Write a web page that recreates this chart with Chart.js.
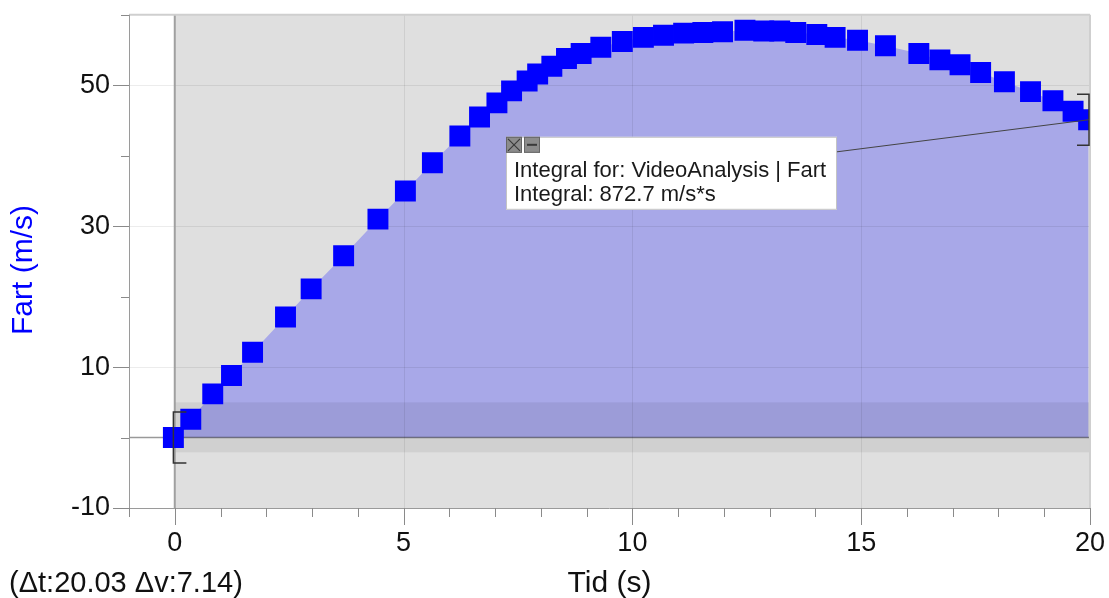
<!DOCTYPE html>
<html><head><meta charset="utf-8">
<script src="https://cdn.jsdelivr.net/npm/chart.js@4.4.1/dist/chart.umd.min.js"></script>
<style>html,body{margin:0;padding:0;background:#fff;}canvas{display:block;}</style>
</head><body>
<canvas id="c" width="1109" height="598"></canvas>
<script>
// ---- data ----
const timeValues = [-0.03,0.35,0.83,1.24,1.70,2.42,2.98,3.69,4.44,5.04,5.63,6.23,6.66,7.04,7.36,7.70,7.93,8.24,8.56,8.88,9.31,9.78,10.24,10.68,11.12,11.54,11.97,12.46,12.87,13.22,13.57,14.03,14.43,14.92,15.53,16.26,16.72,17.16,17.61,18.13,18.70,19.19,19.63,19.97];
const speedValues = [0,2.6,6.2,8.8,12.1,17.1,21.1,25.8,31.0,35.0,39.0,42.8,45.5,47.5,49.2,50.6,51.6,52.7,53.8,54.5,55.4,56.2,56.8,57.1,57.4,57.5,57.6,57.8,57.7,57.7,57.5,57.2,56.8,56.4,55.6,54.5,53.6,52.9,51.8,50.5,49.1,47.8,46.3,45.1];
const xLabeledTicks = [0, 5, 10, 15, 20];
const yLabeledTicks = [-10, 10, 30, 50];
const xRange = [-1, 20];
const yRange = [-10, 60];
const integralRange = [0, 20];
const selectionBand = [-2.1, 5];
const xTitle = "Tid (s)";
const yTitle = "Fart (m/s)";
const deltaText = "(Δt:20.03 Δv:7.14)";
const integralLines = ["Integral for: VideoAnalysis | Fart", "Integral: 872.7 m/s*s"];

const points = timeValues.map((t, i) => ({x: t, y: speedValues[i]}));
const FONT = "'Liberation Sans', Arial, sans-serif";
Chart.defaults.font.family = FONT;

function crisp(p){ return Math.round(p) + 0.5; }

const decor = {
  id: 'decor',
  beforeDraw(chart){
    const {ctx, chartArea: a, scales: {x}} = chart;
    ctx.save();
    ctx.fillStyle = '#fff';
    ctx.fillRect(0, 0, chart.width, chart.height);
    const x0 = x.getPixelForValue(integralRange[0]);
    ctx.fillStyle = '#dfdfdf';
    ctx.fillRect(x0, a.top, a.right - x0, a.bottom - a.top);
    ctx.restore();
  },
  afterDatasetDraw(chart, args){
    if (args.index !== 0) return;
    const {ctx, chartArea: a, scales: {x, y}} = chart;
    ctx.save();
    const x0 = x.getPixelForValue(integralRange[0]);
    const x1 = x.getPixelForValue(integralRange[1]);
    const yb1 = y.getPixelForValue(selectionBand[1]);
    const yb0 = y.getPixelForValue(selectionBand[0]);
    ctx.fillStyle = 'rgba(0,0,0,0.065)';
    ctx.fillRect(x0, yb1, x1 - x0, yb0 - yb1);
    ctx.strokeStyle = 'rgba(0,0,0,0.075)';
    ctx.lineWidth = 1;
    ctx.beginPath();
    [10, 30, 50].forEach(v => { const p = crisp(y.getPixelForValue(v)); ctx.moveTo(a.left, p); ctx.lineTo(a.right, p); });
    [5, 10, 15].forEach(v => { const p = crisp(x.getPixelForValue(v)); ctx.moveTo(p, a.top); ctx.lineTo(p, a.bottom); });
    ctx.stroke();
    ctx.strokeStyle = 'rgba(0,0,0,0.4)';
    ctx.lineWidth = 1.5;
    const yz = y.getPixelForValue(0);
    ctx.beginPath(); ctx.moveTo(a.left, yz); ctx.lineTo(a.right, yz); ctx.stroke();
    ctx.strokeStyle = '#a0a0a0';
    ctx.lineWidth = 2;
    ctx.beginPath(); ctx.moveTo(x0, a.top); ctx.lineTo(x0, a.bottom); ctx.stroke();
    ctx.restore();
  },
  afterDatasetsDraw(chart){
    const {ctx, chartArea: a, scales: {x, y}} = chart;
    ctx.save();
    ctx.lineWidth = 2; ctx.strokeStyle = '#cfcfcf';
    ctx.beginPath(); ctx.moveTo(a.left, a.top); ctx.lineTo(a.right, a.top); ctx.stroke();
    ctx.beginPath(); ctx.moveTo(a.right, a.top); ctx.lineTo(a.right, a.bottom); ctx.stroke();
    ctx.lineWidth = 1; ctx.strokeStyle = '#9a9a9a';
    ctx.beginPath();
    ctx.moveTo(crisp(a.left), a.top); ctx.lineTo(crisp(a.left), a.bottom);
    ctx.moveTo(a.left, crisp(a.bottom)); ctx.lineTo(a.right, crisp(a.bottom));
    ctx.stroke();
    ctx.strokeStyle = '#8a8a8a'; ctx.lineWidth = 1;
    ctx.beginPath();
    for (let v = xRange[0]; v <= xRange[1]; v++) {
      const p = crisp(x.getPixelForValue(v));
      const len = (v % 5 === 0) ? 17 : 9;
      ctx.moveTo(p, a.bottom); ctx.lineTo(p, a.bottom + len);
    }
    for (let v = yRange[0]; v <= yRange[1]; v += 10) {
      const p = crisp(y.getPixelForValue(v));
      const len = yLabeledTicks.includes(v) ? 16 : 8;
      ctx.moveTo(a.left, p); ctx.lineTo(a.left - len, p);
    }
    ctx.stroke();
    ctx.strokeStyle = '#333'; ctx.lineWidth = 1.5;
    const bx0 = x.getPixelForValue(timeValues[0]);
    const by0 = y.getPixelForValue(speedValues[0]);
    ctx.beginPath();
    ctx.moveTo(bx0 + 13, by0 - 25.5); ctx.lineTo(bx0, by0 - 25.5); ctx.lineTo(bx0, by0 + 25.5); ctx.lineTo(bx0 + 13, by0 + 25.5);
    ctx.stroke();
    const last = timeValues.length - 1;
    const bx1 = x.getPixelForValue(integralRange[1]) - 1;
    const by1 = y.getPixelForValue(speedValues[last]);
    ctx.beginPath();
    ctx.moveTo(bx1 - 12, by1 - 25.5); ctx.lineTo(bx1, by1 - 25.5); ctx.lineTo(bx1, by1 + 25.5); ctx.lineTo(bx1 - 12, by1 + 25.5);
    ctx.stroke();
    const bl = a.left + 377, bt = a.top + 122, bw = 331, bh = 73;
    const px = x.getPixelForValue(timeValues[last]);
    const py = y.getPixelForValue(speedValues[last]);
    ctx.strokeStyle = '#444'; ctx.lineWidth = 1;
    ctx.beginPath(); ctx.moveTo(bl + bw, bt + 15); ctx.lineTo(px, py); ctx.stroke();
    ctx.fillStyle = '#fff';
    ctx.fillRect(bl, bt, bw, bh);
    ctx.strokeStyle = '#c4c4c4';
    ctx.strokeRect(bl + 0.5, bt + 0.5, bw - 1, bh - 1);
    ctx.fillStyle = '#8c8c8c'; ctx.strokeStyle = '#666';
    ctx.fillRect(bl, bt, 16, 16); ctx.strokeRect(bl + 0.5, bt + 0.5, 15, 15);
    ctx.fillRect(bl + 18, bt, 16, 16); ctx.strokeRect(bl + 18.5, bt + 0.5, 15, 15);
    ctx.strokeStyle = '#3a3a3a'; ctx.lineWidth = 1.2;
    ctx.beginPath();
    ctx.moveTo(bl + 2, bt + 2); ctx.lineTo(bl + 14, bt + 14);
    ctx.moveTo(bl + 14, bt + 2); ctx.lineTo(bl + 2, bt + 14);
    ctx.stroke();
    ctx.fillStyle = '#3a3a3a';
    ctx.fillRect(bl + 21, bt + 7, 10, 2);
    ctx.fillStyle = '#1a1a1a';
    ctx.font = '22px ' + FONT;
    ctx.textAlign = 'left'; ctx.textBaseline = 'alphabetic';
    ctx.fillText(integralLines[0], bl + 8, bt + 40);
    ctx.fillText(integralLines[1], bl + 8, bt + 64);
    ctx.restore();
  },
  afterDraw(chart){
    const {ctx, chartArea: a} = chart;
    ctx.save();
    ctx.textBaseline = 'alphabetic';
    ctx.fillStyle = '#111';
    ctx.font = '30px ' + FONT;
    ctx.textAlign = 'center';
    ctx.fillText(xTitle, (a.left + a.right) / 2, 591.5);
    ctx.font = '29px ' + FONT;
    ctx.textAlign = 'left';
    ctx.fillText(deltaText, 9, 591.5);
    ctx.fillStyle = '#0000ff';
    ctx.font = '30px ' + FONT;
    ctx.translate(32, 270);
    ctx.rotate(-Math.PI / 2);
    ctx.textAlign = 'center';
    ctx.fillText(yTitle, 0, 0);
    ctx.restore();
  }
};

new Chart(document.getElementById('c'), {
  type: 'line',
  data: {
    datasets: [
      { label: 'Integral', data: points, fill: 'origin', backgroundColor: '#a8a8e8',
        borderWidth: 0, borderColor: 'rgba(0,0,0,0)', pointRadius: 0, tension: 0, order: 2 },
      { label: 'Fart', data: points, showLine: false, borderWidth: 0, pointStyle: 'rect',
        pointRadius: 14.8, pointHoverRadius: 14.8, pointBackgroundColor: '#0000ff', pointBorderWidth: 0, order: 1 }
    ]
  },
  options: {
    responsive: false,
    animation: false,
    events: [],
    layout: { padding: { left: 0, right: 19, top: 11, bottom: 0 } },
    plugins: { legend: { display: false }, tooltip: { enabled: false } },
    scales: {
      x: {
        type: 'linear', min: xRange[0], max: xRange[1],
        grid: { display: false, drawTicks: false }, border: { display: false },
        ticks: { stepSize: 1, autoSkip: false, maxRotation: 0, padding: 19, color: '#111',
          font: { size: 27 }, callback: v => xLabeledTicks.includes(v) ? String(v) : '' },
        afterFit(s){ s.height = 90; s.paddingLeft = 0; s.paddingRight = 0; }
      },
      y: {
        type: 'linear', min: yRange[0], max: yRange[1],
        grid: { display: false, drawTicks: false }, border: { display: false },
        ticks: { stepSize: 10, autoSkip: false, padding: 19, color: '#111',
          font: { size: 27 }, callback: v => yLabeledTicks.includes(v) ? String(v) : '' },
        afterFit(s){ s.width = 129; s.paddingTop = 0; s.paddingBottom = 0; }
      }
    }
  },
  plugins: [decor]
});
</script>
</body></html>
